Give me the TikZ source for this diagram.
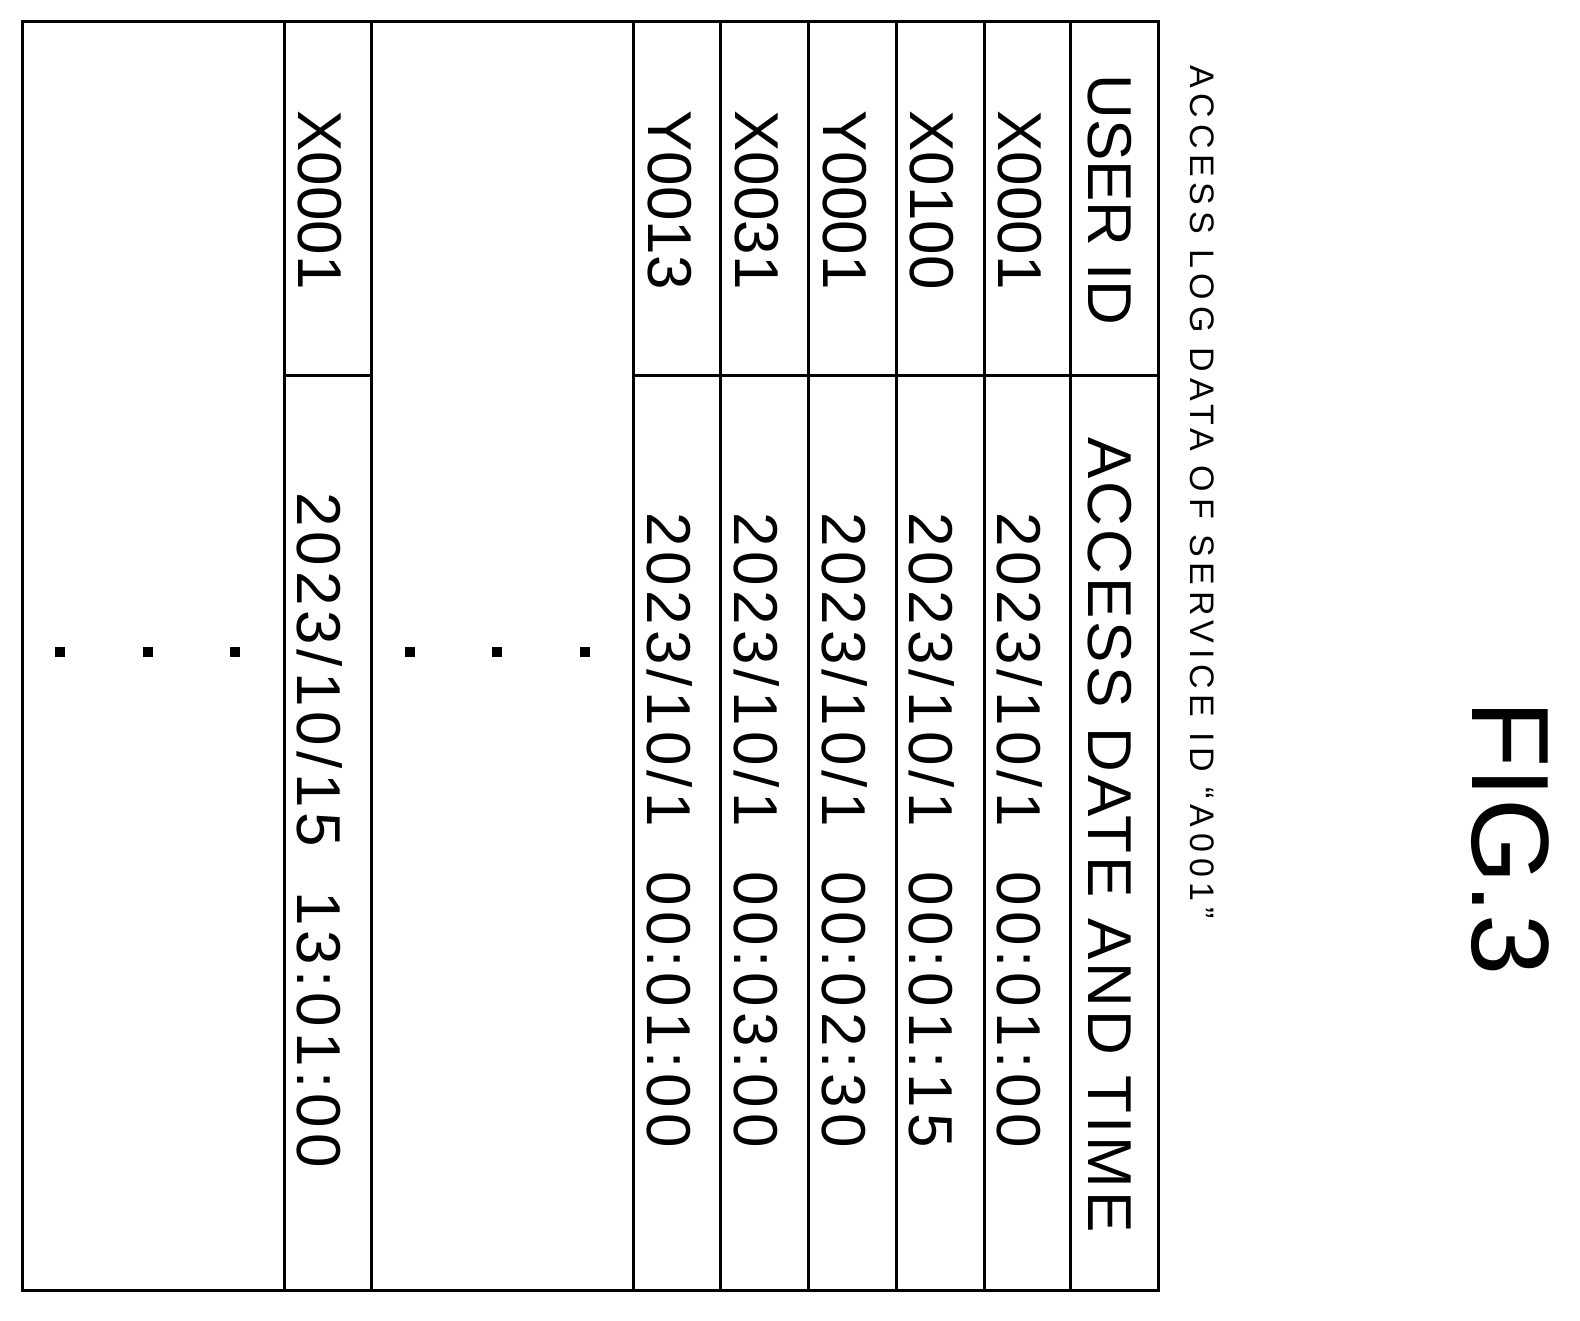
\documentclass[tikz,border=0pt]{standalone}
\usepackage{fontspec}
\setmainfont{Liberation Sans}
\begin{document}
\begin{tikzpicture}[x=1pt,y=-1pt,
  cell/.style={rotate=-90,inner sep=0pt,font=\fontsize{62}{62}\selectfont},
  dcell/.style={rotate=-90,inner sep=0pt,font=\fontsize{62}{62}\selectfont\addfontfeature{LetterSpace=8}},
  hcell/.style={rotate=-90,inner sep=0pt,font=\fontsize{62}{62}\selectfont\addfontfeature{LetterSpace=5}},
  ttl/.style={rotate=-90,inner sep=0pt,font=\fontsize{34}{34}\selectfont\addfontfeature{LetterSpace=17}},
  fig/.style={rotate=-90,inner sep=0pt,font=\fontsize{110}{110}\selectfont},
  grid/.style={line width=3pt},
  dot/.style={fill=black,minimum size=10pt,inner sep=0pt}]
\useasboundingbox (0,0) rectangle (1580,1321);
\draw[grid] (22,22) rectangle (1158,1290);
\foreach \x in {284,371,633,720,808,896,984,1070}
  \draw[grid] (\x,22) -- (\x,1290);
\draw[grid] (633,376) -- (1158,376);
\draw[grid] (284,376) -- (371,376);
\node[fig] (fig) at (1510,838) {FIG.3};
\node[ttl] (title) at (1202,492) {ACCESS LOG DATA OF SERVICE ID “A001”};
\node[cell] (h1) at (1110,200) {USER ID};
\node[hcell] (h2) at (1110,835) {ACCESS DATE AND TIME};
\node[cell] (u1) at (1020,200) {X0001};
\node[dcell] (d1) at (1020,830) {2023/10/1\ \ 00:01:00};
\node[cell] (u2) at (932,200) {X0100};
\node[dcell] (d2) at (932,830) {2023/10/1\ \ 00:01:15};
\node[cell] (u3) at (845,200) {Y0001};
\node[dcell] (d3) at (845,830) {2023/10/1\ \ 00:02:30};
\node[cell] (u4) at (757,200) {X0031};
\node[dcell] (d4) at (757,830) {2023/10/1\ \ 00:03:00};
\node[cell] (u5) at (670,200) {Y0013};
\node[dcell] (d5) at (670,830) {2023/10/1\ \ 00:01:00};
\node[cell] (u6) at (320,200) {X0001};
\node[dcell] (d6) at (320,830) {2023/10/15\ \ 13:01:00};
\foreach \x [count=\i] in {60,148,235,410,497,585}
  \node[dot] (dot\i) at (\x,652) {};
\end{tikzpicture}
\end{document}
